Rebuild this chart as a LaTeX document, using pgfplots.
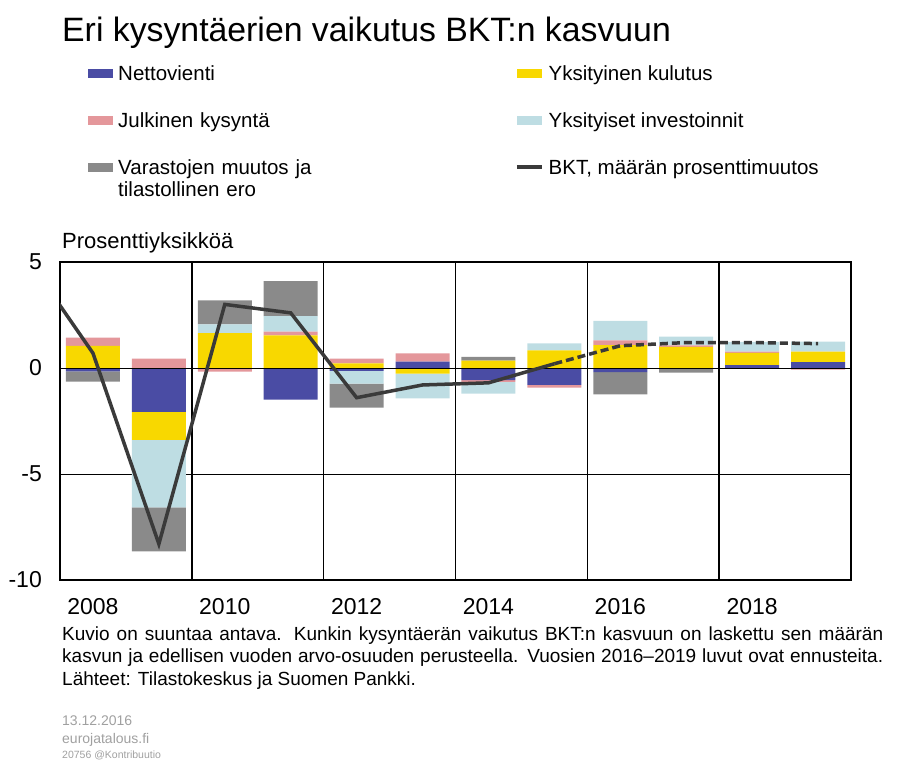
\documentclass[border=0pt]{standalone}
\usepackage{fontspec}
\setmainfont{Liberation Sans}
\usepackage{pgfplots}
\usepackage{pgfplotstable}
\pgfplotsset{compat=1.18}

\definecolor{cblue}{HTML}{4A4CA4}
\definecolor{cyellow}{HTML}{F8D800}
\definecolor{cpink}{HTML}{E4979B}
\definecolor{clb}{HTML}{BEDDE3}
\definecolor{cgrey}{HTML}{8A8A8A}
\definecolor{cline}{HTML}{3A3A3A}
\definecolor{cfoot}{HTML}{A0A0A0}

\pgfplotstableread{
year blue yellow pink lb grey
2008 0 1.04 0.39 0 0
2009 0 0 0.44 0 0
2010 0 1.65 0 0.41 1.13
2011 0 1.54 0.17 0.74 1.65
2012 0 0.22 0.22 0 0
2013 0.30 0 0.39 0 0
2014 0 0.35 0 0 0.17
2015 0 0.83 0 0.33 0
2016 0 1.08 0.22 0.92 0
2017 0 1.00 0.07 0.41 0
2018 0.13 0.58 0.06 0.46 0
2019 0.28 0.49 0 0.47 0
}\posdata

\pgfplotstableread{
year blue yellow pink lb grey
2008 -0.16 0 0 0 -0.48
2009 -2.07 -1.32 0 -3.18 -2.08
2010 0 0 -0.17 0 0
2011 -1.49 0 0 0 0
2012 -0.14 0 0 -0.60 -1.13
2013 0 -0.27 0 -1.16 0
2014 -0.57 0 -0.09 -0.55 0
2015 -0.79 0 -0.14 0 0
2016 -0.19 0 0 0 -1.05
2017 0 0 0 0 -0.22
2018 0 0 0 0 0
2019 0 0 -0.08 0 0
}\negdata

\pgfplotsset{
  common/.style={scale only axis, width=791bp, height=318bp,
    xmin=2007.5, xmax=2019.5, ymin=-10, ymax=5,
    at={(60bp,-580bp)}, anchor=south west},
  mypatch/.style={legend image code/.code={\fill[##1] (0bp,2.5bp) rectangle (25bp,11.5bp);}},
  seg/.style={fill=#1, draw=none, mypatch},
}

\begin{document}
\begin{tikzpicture}
\path[use as bounding box] (0,0) rectangle (898bp,-760bp);

\node[anchor=base west, inner sep=0pt, font=\fontsize{33.8bp}{40bp}\selectfont] at (62bp,-41bp) {Eri kysyntäerien vaikutus BKT:n kasvuun};
\node[anchor=base west, inner sep=0pt, font=\fontsize{22bp}{26bp}\selectfont] at (62bp,-248bp) {Prosenttiyksikköä};

% negatives + frame
\begin{axis}[common, ybar stacked, bar width=0.82,
  axis line style={line width=1.5bp},
  major tick length=0pt,
  ytick={-10,-5,0,5}, yticklabels={-10,-5,0,5},
  ymajorgrids, grid style={black, line width=0.8bp},
  xtick={2008,2010,2012,2014,2016,2018},
  xticklabels={2008,2010,2012,2014,2016,2018},
  extra x ticks={2009.5,2011.5,2013.5,2015.5,2017.5},
  extra x tick labels={},
  extra x tick style={grid=major, major grid style={black, line width=1.5bp}},
  tick label style={font=\fontsize{23bp}{27bp}\selectfont, inner sep=0pt},
  yticklabel style={xshift=-18bp},
  xticklabel style={yshift=-18bp},
]
\addplot[seg=cblue] table[x=year, y=blue] {\negdata};
\addplot[seg=cyellow] table[x=year, y=yellow] {\negdata};
\addplot[seg=cpink] table[x=year, y=pink] {\negdata};
\addplot[seg=clb] table[x=year, y=lb] {\negdata};
\addplot[seg=cgrey] table[x=year, y=grey] {\negdata};
\end{axis}

% positives + legend
\begin{axis}[common, ybar stacked, bar width=0.82, hide axis,
  legend columns=2,
  legend style={at={(axis description cs:0.0354,1.6195)}, anchor=north west,
    draw=none, fill=none, inner sep=0pt,
    font=\fontsize{20.5bp}{22bp}\selectfont,
    cells={anchor=base west},
    nodes={inner sep=0pt, text height=15bp, text depth=5bp},
    row sep=27bp, column sep=5bp,
    /tikz/column 2/.style={nodes={text width=392bp}}},
]
\addplot[seg=cblue] table[x=year, y=blue] {\posdata};
\addlegendentry{Nettovienti}
\addplot[seg=cyellow] table[x=year, y=yellow] {\posdata};
\addlegendentry{Yksityinen kulutus}
\addplot[seg=cpink] table[x=year, y=pink] {\posdata};
\addlegendentry{Julkinen kysyntä}
\addplot[seg=clb] table[x=year, y=lb] {\posdata};
\addlegendentry{Yksityiset investoinnit}
\addplot[seg=cgrey] table[x=year, y=grey] {\posdata};
\addlegendentry{\begin{tabular}[t]{@{}l@{}}Varastojen muutos ja\\tilastollinen ero\end{tabular}}
\addlegendimage{legend image code/.code={\draw[cline, line width=3.5bp] (0bp,7bp) -- (25bp,7bp);}}
\addlegendentry{BKT, määrän prosenttimuutos}
\end{axis}

% zero line and GDP line
\begin{axis}[common, hide axis]
\addplot[black, line width=0.8bp] coordinates {(2007.5,0) (2019.5,0)};
\addplot[cline, line width=3.5bp] coordinates {
(2007,5.2) (2008,0.7) (2009,-8.3) (2010,3.0) (2011,2.6) (2012,-1.4) (2013,-0.8) (2014,-0.7) (2015,0.2)};
\addplot[cline, line width=3.5bp, dash pattern=on 8bp off 4bp] coordinates {
(2015,0.2) (2016,1.05) (2017,1.2) (2018,1.2) (2019,1.15)};
\end{axis}

\node[anchor=base west, inner sep=0pt, align=left, font=\fontsize{19bp}{22.5bp}\selectfont] at (62bp,-685bp)
{\makebox[821bp][s]{Kuvio on suuntaa antava. Kunkin kysyntäerän vaikutus BKT:n kasvuun on laskettu sen määrän}\\
\makebox[821bp][s]{kasvun ja edellisen vuoden arvo-osuuden perusteella. Vuosien 2016–2019 luvut ovat ennusteita.}\\
Lähteet: Tilastokeskus ja Suomen Pankki.};

\node[anchor=base west, inner sep=0pt, text=cfoot, font=\fontsize{14bp}{17bp}\selectfont] at (62bp,-725bp) {13.12.2016};
\node[anchor=base west, inner sep=0pt, text=cfoot, font=\fontsize{14bp}{17bp}\selectfont] at (62bp,-743bp) {eurojatalous.fi};
\node[anchor=base west, inner sep=0pt, text=cfoot, font=\fontsize{10.5bp}{12bp}\selectfont] at (62bp,-758bp) {20756 @Kontribuutio};
\end{tikzpicture}
\end{document}
